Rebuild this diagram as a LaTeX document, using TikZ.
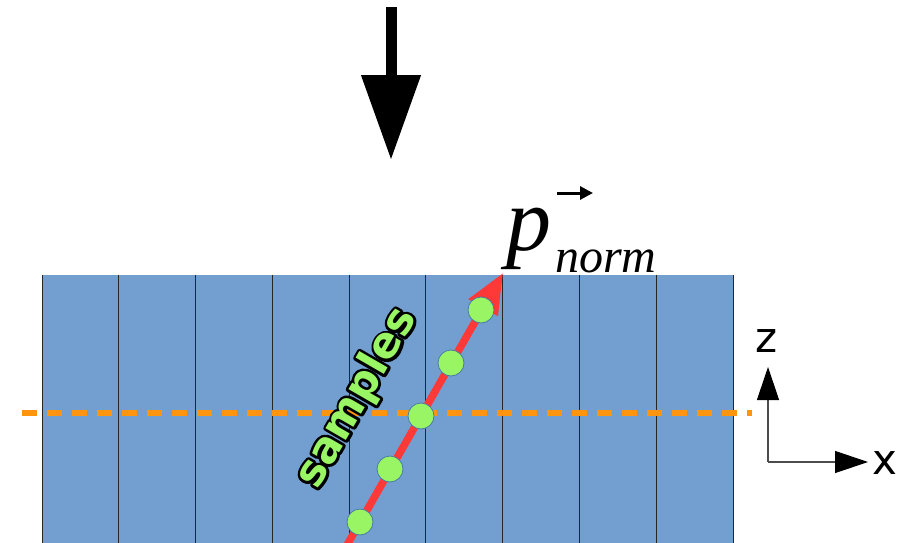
\documentclass[tikz,border=0pt]{standalone}
\usepackage{fontspec}
\setmainfont{Liberation Serif}
\newfontfamily\axfont{DejaVu Sans}
\newfontfamily\smpfont{DejaVu Sans Bold}
\usetikzlibrary{arrows.meta}
\definecolor{cellblue}{HTML}{729FCF}
\definecolor{dashorange}{HTML}{FF950E}
\definecolor{arrred}{HTML}{FF3838}
\definecolor{dotgreen}{HTML}{99F564}
\definecolor{dotedge}{HTML}{4A7AA8}
\newcommand{\strokedtext}[1]{\special{pdf:literal direct 0 G 5.5 w 1 j 2 Tr}#1\special{pdf:literal direct 0 Tr}}
\tikzset{
  cellline/.style={draw=black!85, line width=0.9pt},
  sampledot/.style={circle, fill=dotgreen, draw=dotedge, line width=0.8pt, minimum size=26pt, inner sep=0pt},
  axisarrow/.style={draw=black!70, line width=1.2pt, -{Triangle[length=33pt,width=22pt,fill=black,color=black]}},
  smplabel/.style={rotate=60, inner sep=0pt, font=\fontsize{43}{43}\smpfont},
}
\begin{document}
\begin{tikzpicture}[x=1pt,y=-1pt]
\useasboundingbox (0,0) rectangle (899,543);
% slab
\fill[cellblue] (42,275) rectangle (733,543);
\foreach \i in {0,...,9}{
  \draw[cellline] ({42+\i*76.78},275) -- ({42+\i*76.78},543);
}
% dashed orange line
\coordinate (dl) at (22,413);
\coordinate (dr) at (752,413);
\draw[dashorange, line width=6.5pt, dash pattern=on 15pt off 10pt] (dl) -- (dr);
% red arrow
\coordinate (rs) at (347,545);
\coordinate (rt) at (503,273);
\draw[arrred, line width=7.5pt, -{Triangle[length=40pt,width=32pt]}] (rs) -- (rt);
% sample dots
\node[sampledot] (s1) at (360,522) {};
\node[sampledot] (s2) at (390,469) {};
\node[sampledot] (s3) at (421,416) {};
\node[sampledot] (s4) at (451,363) {};
\node[sampledot] (s5) at (481,310) {};
% samples label: black outline underneath, green fill on top
\node[smplabel, text=black] (smpo) at (357,398) {\strokedtext{samples}};
\node[smplabel, text=dotgreen] (smp) at (357,398) {samples};
% big black arrow
\coordinate (bt) at (391,7);
\coordinate (bb) at (391,160);
\draw[black, line width=11pt, -{Triangle[length=85pt,width=57pt]}] (bt) -- (bb);
% p_norm label
\node[anchor=base west, inner sep=0pt] (p) at (506,250) {\fontsize{90}{90}\selectfont\itshape p};
\node[anchor=base west, inner sep=0pt] (norm) at (555,272) {\fontsize{48}{48}\selectfont\itshape norm};
\coordinate (va) at (557,193);
\coordinate (vb) at (593,193);
\draw[black, line width=3pt, -{Triangle[length=13pt,width=13pt]}] (va) -- (vb);
% axes
\coordinate (o) at (768,462);
\coordinate (zt) at (768,367);
\coordinate (xt) at (868,462);
\draw[axisarrow] (o) -- (zt);
\draw[axisarrow] (o) -- (xt);
\node[inner sep=0pt] (zl) at (767,341) {\fontsize{42}{42}\axfont z};
\node[inner sep=0pt] (xl) at (885,463) {\fontsize{42}{42}\axfont x};
\end{tikzpicture}
\end{document}
